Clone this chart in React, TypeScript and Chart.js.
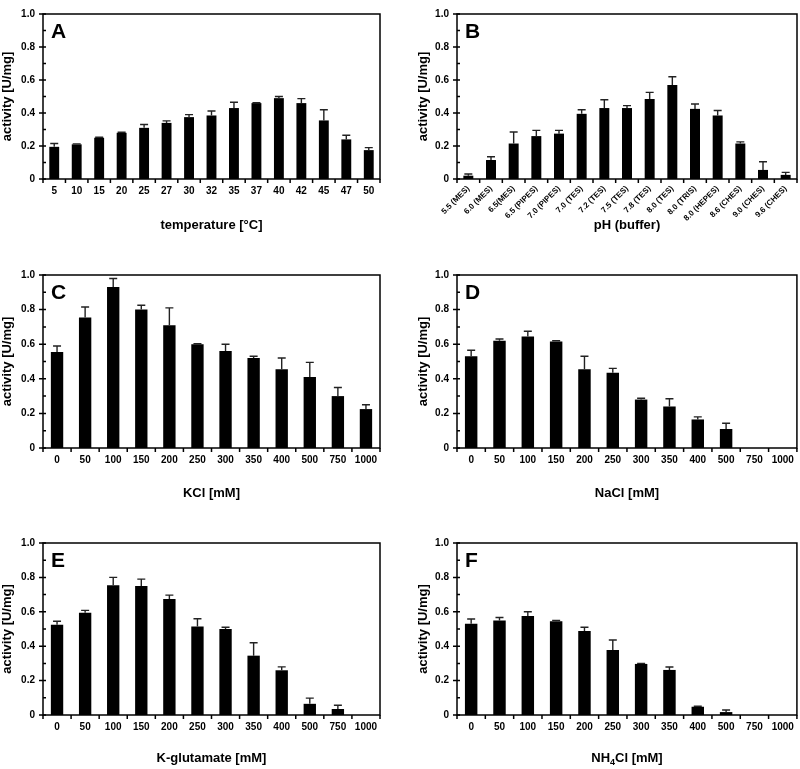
import React, { useEffect, useRef } from 'react';
import { Chart, registerables } from 'chart.js';
Chart.register(...registerables);

const FONT = "'Liberation Sans', Arial, Helvetica, sans-serif";

const tempLabels = ['5', '10', '15', '20', '25', '27', '30', '32', '35', '37', '40', '42', '45', '47', '50'];
const tempValues = [0.195, 0.21, 0.25, 0.28, 0.31, 0.34, 0.375, 0.385, 0.43, 0.46, 0.49, 0.46, 0.355, 0.24, 0.175];
const tempErrors = [0.02, 0.003, 0.003, 0.003, 0.02, 0.012, 0.015, 0.027, 0.035, 0.003, 0.01, 0.027, 0.065, 0.025, 0.015];

const phLabels = ['5.5 (MES)', '6.0 (MES)', '6.5(MES)', '6.5 (PIPES)', '7.0 (PIPES)', '7.0 (TES)', '7.2 (TES)', '7.5 (TES)', '7.8 (TES)', '8.0 (TES)', '8.0 (TRIS)', '8.0 (HEPES)', '8.6 (CHES)', '9.0 (CHES)', '9.6 (CHES)'];
const phValues = [0.02, 0.115, 0.215, 0.26, 0.275, 0.395, 0.43, 0.43, 0.485, 0.57, 0.425, 0.385, 0.215, 0.055, 0.025];
const phErrors = [0.01, 0.02, 0.07, 0.035, 0.02, 0.025, 0.05, 0.015, 0.04, 0.05, 0.03, 0.03, 0.01, 0.05, 0.015];

const saltLabels = ['0', '50', '100', '150', '200', '250', '300', '350', '400', '500', '750', '1000'];
const kclValues = [0.555, 0.755, 0.93, 0.8, 0.71, 0.6, 0.56, 0.52, 0.455, 0.41, 0.3, 0.225];
const kclErrors = [0.035, 0.06, 0.05, 0.025, 0.1, 0.003, 0.04, 0.01, 0.065, 0.085, 0.05, 0.025];
const naclValues = [0.53, 0.62, 0.645, 0.615, 0.455, 0.435, 0.28, 0.24, 0.165, 0.11, 0, 0];
const naclErrors = [0.035, 0.01, 0.03, 0.005, 0.075, 0.025, 0.008, 0.045, 0.015, 0.033, 0, 0];
const kgluValues = [0.525, 0.595, 0.755, 0.75, 0.675, 0.515, 0.5, 0.345, 0.26, 0.065, 0.035, 0];
const kgluErrors = [0.02, 0.013, 0.045, 0.04, 0.022, 0.045, 0.01, 0.075, 0.02, 0.033, 0.022, 0];
const nh4Values = [0.53, 0.55, 0.575, 0.545, 0.488, 0.378, 0.297, 0.262, 0.048, 0.017, 0, 0];
const nh4Errors = [0.028, 0.017, 0.025, 0.005, 0.022, 0.058, 0.003, 0.017, 0.003, 0.012, 0, 0];

const majorTicks = [0, 0.2, 0.4, 0.6, 0.8, 1.0];
const minorTicks = [0.1, 0.3, 0.5, 0.7, 0.9];

type PanelProps = {
  letter: string;
  labels: string[];
  values: number[];
  errors: number[];
  xTitle: string;
  subTitle?: [string, string, string];
  left: number;
  top: number;
  width: number;
  height: number;
  padTop: number;
  padRight: number;
  padBottom: number;
  yWidth: number;
  xHeight: number;
  yTitlePad: number;
  rotate?: boolean;
};

function Panel(p: PanelProps) {
  const ref = useRef<HTMLCanvasElement | null>(null);
  useEffect(() => {
    if (!ref.current) return;
    const decor = {
      id: 'decor',
      afterDatasetsDraw(chart: any) {
        const ctx = chart.ctx;
        const ys = chart.scales.y;
        const meta = chart.getDatasetMeta(0);
        ctx.save();
        ctx.strokeStyle = '#222';
        ctx.lineWidth = 1.4;
        meta.data.forEach((el: any, i: number) => {
          const e = p.errors[i];
          if (!e) return;
          const yTop = ys.getPixelForValue(p.values[i] + e);
          ctx.beginPath();
          ctx.moveTo(el.x, el.y);
          ctx.lineTo(el.x, yTop);
          ctx.moveTo(el.x - 4, yTop);
          ctx.lineTo(el.x + 4, yTop);
          ctx.stroke();
        });
        ctx.restore();
      },
      afterDraw(chart: any) {
        const ctx = chart.ctx;
        const a = chart.chartArea;
        const ys = chart.scales.y;
        ctx.save();
        ctx.strokeStyle = '#000';
        ctx.lineWidth = 1.5;
        ctx.strokeRect(a.left, a.top, a.right - a.left, a.bottom - a.top);
        ctx.beginPath();
        majorTicks.forEach((v) => {
          const y = ys.getPixelForValue(v);
          ctx.moveTo(a.left - 4, y);
          ctx.lineTo(a.left + 3, y);
        });
        minorTicks.forEach((v) => {
          const y = ys.getPixelForValue(v);
          ctx.moveTo(a.left, y);
          ctx.lineTo(a.left + 3, y);
        });
        const n = p.labels.length;
        for (let i = 0; i <= n; i++) {
          const x = a.left + (i * (a.right - a.left)) / n;
          ctx.moveTo(x, a.bottom);
          ctx.lineTo(x, a.bottom + 4);
        }
        ctx.stroke();
        ctx.fillStyle = '#000';
        ctx.font = `bold 21px ${FONT}`;
        ctx.textBaseline = 'alphabetic';
        ctx.textAlign = 'left';
        ctx.fillText(p.letter, a.left + 8, a.top + 24);
        if (p.subTitle) {
          const [s1, s2, s3] = p.subTitle;
          const big = `bold 13px ${FONT}`;
          const small = `bold 9px ${FONT}`;
          ctx.font = big;
          const w1 = ctx.measureText(s1).width;
          const w3 = ctx.measureText(s3).width;
          ctx.font = small;
          const w2 = ctx.measureText(s2).width;
          const total = w1 + w2 + w3;
          let x = (a.left + a.right) / 2 - total / 2;
          const yb = chart.height - 4 - 7.8 + 4.5;
          ctx.font = big;
          ctx.fillText(s1, x, yb);
          x += w1;
          ctx.font = small;
          ctx.fillText(s2, x, yb + 3);
          x += w2;
          ctx.font = big;
          ctx.fillText(s3, x, yb);
        }
        ctx.restore();
      },
    };
    const chart = new Chart(ref.current, {
      type: 'bar',
      data: {
        labels: p.labels,
        datasets: [
          {
            data: p.values,
            backgroundColor: '#000',
            borderWidth: 0,
            barPercentage: 0.44,
            categoryPercentage: 1,
          },
        ],
      },
      options: {
        responsive: false,
        animation: false,
        devicePixelRatio: 1,
        layout: { padding: { top: p.padTop, right: p.padRight, bottom: p.padBottom, left: 0 } },
        plugins: { legend: { display: false }, tooltip: { enabled: false } },
        scales: {
          x: {
            grid: { display: false, drawTicks: false },
            border: { display: false },
            afterFit: (s: any) => {
              s.height = p.xHeight;
            },
            ticks: {
              autoSkip: false,
              padding: p.rotate ? 5 : 6,
              minRotation: p.rotate ? 45 : 0,
              maxRotation: p.rotate ? 45 : 0,
              color: '#000',
              font: { family: FONT, weight: 'bold', size: p.rotate ? 8 : 10 },
            },
            title: {
              display: !p.subTitle,
              text: p.xTitle,
              color: '#000',
              padding: { top: 4, bottom: 3 },
              font: { family: FONT, weight: 'bold', size: 13 },
            },
          },
          y: {
            min: 0,
            max: 1,
            grid: { display: false, drawTicks: false },
            border: { display: false },
            afterFit: (s: any) => {
              s.width = p.yWidth;
            },
            ticks: {
              stepSize: 0.2,
              padding: 8,
              color: '#000',
              font: { family: FONT, weight: 'bold', size: 10 },
              callback: (v: any) => (Number(v) === 0 ? '0' : Number(v).toFixed(1)),
            },
            title: {
              display: true,
              text: 'activity [U/mg]',
              color: '#000',
              padding: { top: p.yTitlePad, bottom: 0 },
              font: { family: FONT, weight: 'bold', size: 13 },
            },
          },
        },
      } as any,
      plugins: [decor],
    });
    return () => chart.destroy();
  }, []);
  return (
    <canvas
      ref={ref}
      width={p.width}
      height={p.height}
      style={{ position: 'absolute', left: p.left, top: p.top, width: p.width, height: p.height }}
    />
  );
}

export default function App() {
  const leftCol = { left: 0, width: 400, padRight: 20, yWidth: 43, yTitlePad: 0 };
  const rightCol = { left: 400, width: 400, padRight: 3, yWidth: 57, yTitlePad: 16 };
  const row1 = { top: 0, height: 240, padTop: 7, padBottom: 4, xHeight: 57 };
  const row2 = { top: 240, height: 264, padTop: 35, padBottom: 0, xHeight: 56 };
  const row3 = { top: 504, height: 265, padTop: 39, padBottom: 0, xHeight: 54 };
  return (
    <div style={{ position: 'absolute', left: 0, top: 0, width: 800, height: 769, background: '#fff' }}>
      <Panel letter="A" labels={tempLabels} values={tempValues} errors={tempErrors} xTitle="temperature [°C]" {...leftCol} {...row1} />
      <Panel letter="B" labels={phLabels} values={phValues} errors={phErrors} xTitle="pH (buffer)" rotate {...rightCol} {...row1} />
      <Panel letter="C" labels={saltLabels} values={kclValues} errors={kclErrors} xTitle="KCl [mM]" {...leftCol} {...row2} />
      <Panel letter="D" labels={saltLabels} values={naclValues} errors={naclErrors} xTitle="NaCl [mM]" {...rightCol} {...row2} />
      <Panel letter="E" labels={saltLabels} values={kgluValues} errors={kgluErrors} xTitle="K-glutamate [mM]" {...leftCol} {...row3} />
      <Panel letter="F" labels={saltLabels} values={nh4Values} errors={nh4Errors} xTitle="NH4Cl [mM]" subTitle={['NH', '4', 'Cl [mM]']} {...rightCol} {...row3} />
    </div>
  );
}
